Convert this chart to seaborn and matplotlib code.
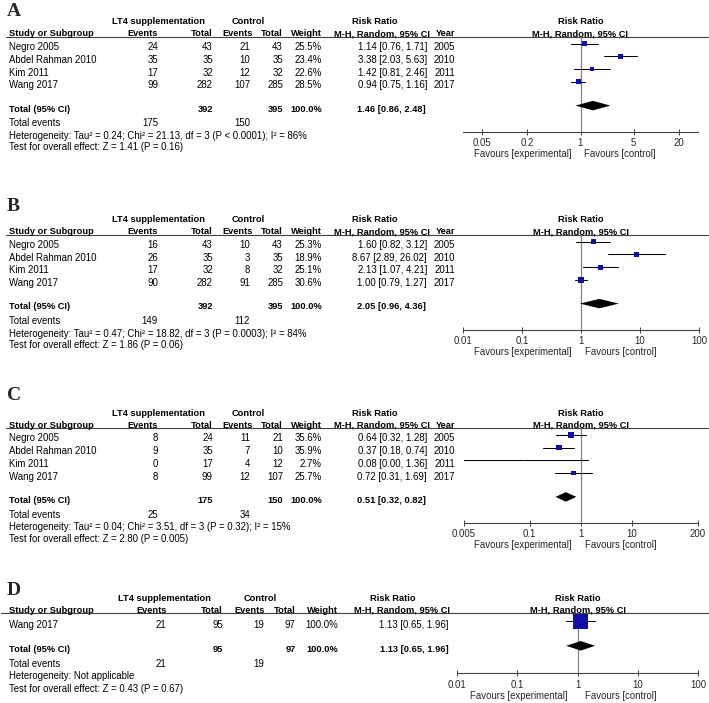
import numpy as np
import pandas as pd
import matplotlib
matplotlib.use("Agg")
import matplotlib.pyplot as plt
import seaborn as sns
from matplotlib.ticker import FixedLocator, NullLocator

# ---------------- data ----------------
studies4 = ["Negro 2005", "Abdel Rahman 2010", "Kim 2011", "Wang 2017"]
years4 = ["2005", "2010", "2011", "2017"]

# Panel A
a_exp_events = [24, 35, 17, 99]
a_exp_total = [43, 35, 32, 282]
a_ctl_events = [21, 10, 12, 107]
a_ctl_total = [43, 35, 32, 285]
a_weight = [25.5, 23.4, 22.6, 28.5]
a_rr = [1.14, 3.38, 1.42, 0.94]
a_lo = [0.76, 2.03, 0.81, 0.75]
a_hi = [1.71, 5.63, 2.46, 1.16]
a_total = [392, 395]
a_total_rr = [1.46, 0.86, 2.48]
a_total_events = [175, 150]
a_het = "Heterogeneity: Tau\u00b2 = 0.24; Chi\u00b2 = 21.13, df = 3 (P < 0.0001); I\u00b2 = 86%"
a_test = "Test for overall effect: Z = 1.41 (P = 0.16)"
a_ticks = [0.05, 0.2, 1, 5, 20]
a_ticklabels = ["0.05", "0.2", "1", "5", "20"]

# Panel B
b_exp_events = [16, 26, 17, 90]
b_exp_total = [43, 35, 32, 282]
b_ctl_events = [10, 3, 8, 91]
b_ctl_total = [43, 35, 32, 285]
b_weight = [25.3, 18.9, 25.1, 30.6]
b_rr = [1.60, 8.67, 2.13, 1.00]
b_lo = [0.82, 2.89, 1.07, 0.79]
b_hi = [3.12, 26.02, 4.21, 1.27]
b_total = [392, 395]
b_total_rr = [2.05, 0.96, 4.36]
b_total_events = [149, 112]
b_het = "Heterogeneity: Tau\u00b2 = 0.47; Chi\u00b2 = 18.82, df = 3 (P = 0.0003); I\u00b2 = 84%"
b_test = "Test for overall effect: Z = 1.86 (P = 0.06)"
b_ticks = [0.01, 0.1, 1, 10, 100]
b_ticklabels = ["0.01", "0.1", "1", "10", "100"]

# Panel C
c_exp_events = [8, 9, 0, 8]
c_exp_total = [24, 35, 17, 99]
c_ctl_events = [11, 7, 4, 12]
c_ctl_total = [21, 10, 12, 107]
c_weight = [35.6, 35.9, 2.7, 25.7]
c_rr = [0.64, 0.37, 0.08, 0.72]
c_lo = [0.32, 0.18, 0.00, 0.31]
c_hi = [1.28, 0.74, 1.36, 1.69]
c_total = [175, 150]
c_total_rr = [0.51, 0.32, 0.82]
c_total_events = [25, 34]
c_het = "Heterogeneity: Tau\u00b2 = 0.04; Chi\u00b2 = 3.51, df = 3 (P = 0.32); I\u00b2 = 15%"
c_test = "Test for overall effect: Z = 2.80 (P = 0.005)"
c_ticks = [0.005, 0.1, 1, 10, 200]
c_ticklabels = ["0.005", "0.1", "1", "10", "200"]

# Panel D
d_studies = ["Wang 2017"]
d_exp_events = [21]
d_exp_total = [95]
d_ctl_events = [19]
d_ctl_total = [97]
d_weight = [100.0]
d_rr = [1.13]
d_lo = [0.65]
d_hi = [1.96]
d_total = [95, 97]
d_total_rr = [1.13, 0.65, 1.96]
d_total_events = [21, 19]
d_het = "Heterogeneity: Not applicable"
d_test = "Test for overall effect: Z = 0.43 (P = 0.67)"
d_ticks = [0.01, 0.1, 1, 10, 100]
d_ticklabels = ["0.01", "0.1", "1", "10", "100"]

# ---------------- style ----------------
sns.set_style("white")
plt.rcParams['font.family'] = ['Liberation Sans', 'DejaVu Sans']
FS = 6.9      # regular text
FSB = 6.7     # bold text
HALF_CAP = 3.4  # px
SQ_COLOR = '#1010a8'
GRID_GRAY = '#808080'
AX_COLOR = '#404040'

W, H = 709, 703
fig = plt.figure(figsize=(W / 100, H / 100), dpi=100)
ax0 = fig.add_axes([0, 0, 1, 1])
ax0.set_xlim(0, W)
ax0.set_ylim(H, 0)
ax0.axis('off')


def T(x, y, s, ha='left', bold=False):
    ax0.text(x, y + HALF_CAP, s, ha=ha, va='baseline', fontsize=FSB if bold else FS,
             fontweight='bold' if bold else 'normal', color='black')


cols_std = dict(study=9, ee=158, et=213, ce=250, ct=283, w=322, rr=427, year=455,
                h_ee=158, h_et=213, h_ce=253, h_ct=283, h_w=322, h_rr=430,
                rr_title=375, lt4=159, ctl=248.5, tot_rr=426, line=(6, 708))
cols_d = dict(study=9, ee=166, et=223, ce=264.5, ct=295.5, w=338, rr=448.5, year=None,
              h_ee=167, h_et=223, h_ce=265, h_ct=296, h_w=338, h_rr=450,
              rr_title=393, lt4=164, ctl=260, tot_rr=448.5, line=(1, 709))

panels = [
    dict(letter='A', letter_y=10, y0=21, studies=studies4, years=years4,
         ee=a_exp_events, et=a_exp_total, ce=a_ctl_events, ct=a_ctl_total, w=a_weight,
         rr=a_rr, lo=a_lo, hi=a_hi, total=a_total, total_rr=a_total_rr,
         total_events=a_total_events, het=a_het, test=a_test,
         ticks=a_ticks, ticklabels=a_ticklabels, xlim=(1 / 35.4, 35.4),
         ax_x=(463, 698), cols=cols_std, row0=25.7, g_tot=23.3, g_ev=14.7,
         g_het=13, g_test=11, g_axis=23.5, sq_k=1.0, fav=(-9, 4)),
    dict(letter='B', letter_y=205, y0=219, studies=studies4, years=years4,
         ee=b_exp_events, et=b_exp_total, ce=b_ctl_events, ct=b_ctl_total, w=b_weight,
         rr=b_rr, lo=b_lo, hi=b_hi, total=b_total, total_rr=b_total_rr,
         total_events=b_total_events, het=b_het, test=b_test,
         ticks=b_ticks, ticklabels=b_ticklabels, xlim=(0.01, 100),
         ax_x=(463, 699), cols=cols_std, row0=25.7, g_tot=23.3, g_ev=14.7,
         g_het=13, g_test=11, g_axis=23.5, sq_k=1.0, fav=(-9, 4)),
    dict(letter='C', letter_y=394, y0=412.3, studies=studies4, years=years4,
         ee=c_exp_events, et=c_exp_total, ce=c_ctl_events, ct=c_ctl_total, w=c_weight,
         rr=c_rr, lo=c_lo, hi=c_hi, total=c_total, total_rr=c_total_rr,
         total_events=c_total_events, het=c_het, test=c_test,
         ticks=c_ticks, ticklabels=c_ticklabels, xlim=(0.005, 200),
         ax_x=(463.5, 698), cols=cols_std, row0=25.7, g_tot=23.3, g_ev=14.7,
         g_het=13, g_test=11, g_axis=23.5, sq_k=0.92, fav=(-9, 4)),
    dict(letter='D', letter_y=589, y0=597.3, studies=d_studies, years=None,
         ee=d_exp_events, et=d_exp_total, ce=d_ctl_events, ct=d_ctl_total, w=d_weight,
         rr=d_rr, lo=d_lo, hi=d_hi, total=d_total, total_rr=d_total_rr,
         total_events=d_total_events, het=d_het, test=d_test,
         ticks=d_ticks, ticklabels=d_ticklabels, xlim=(0.01, 100),
         ax_x=(456.7, 698.3), cols=cols_d, row0=27, g_tot=24, g_ev=15.7,
         g_het=12, g_test=12.3, g_axis=25, sq_k=1.5, fav=(-9.5, 7.5)),
]

for p in panels:
    c = p['cols']
    y0 = p['y0']
    # panel letter
    ax0.text(7, p['letter_y'] + 6.4, p['letter'], ha='left', va='baseline',
             fontsize=14, fontweight='bold', family=['Liberation Serif', 'DejaVu Serif'])
    # header rows
    T(c['lt4'], y0, "LT4 supplementation", ha='center', bold=True)
    T(c['ctl'], y0, "Control", ha='center', bold=True)
    T(c['rr_title'], y0, "Risk Ratio", ha='center', bold=True)
    x0p, x1p = p['ax_x']
    xc = (x0p + x1p) / 2
    T(xc, y0, "Risk Ratio", ha='center', bold=True)
    y1 = y0 + 12
    T(c['study'], y1, "Study or Subgroup", bold=True)
    T(c['h_ee'], y1, "Events", ha='right', bold=True)
    T(c['h_et'], y1, "Total", ha='right', bold=True)
    T(c['h_ce'], y1, "Events", ha='right', bold=True)
    T(c['h_ct'], y1, "Total", ha='right', bold=True)
    T(c['h_w'], y1, "Weight", ha='right', bold=True)
    T(c['h_rr'], y1, "M-H, Random, 95% CI", ha='right', bold=True)
    if c['year'] is not None:
        T(c['year'], y1, "Year", ha='right', bold=True)
    T(xc, y1, "M-H, Random, 95% CI", ha='center', bold=True)
    line_y = y0 + 15.7
    ax0.plot(list(c['line']), [line_y, line_y], color=AX_COLOR, lw=0.8)

    # study rows
    n = len(p['studies'])
    row_y = [y0 + p['row0'] + i * 12.7 for i in range(n)]
    for i in range(n):
        y = row_y[i]
        T(c['study'], y, p['studies'][i])
        T(c['ee'], y, str(p['ee'][i]), ha='right')
        T(c['et'], y, str(p['et'][i]), ha='right')
        T(c['ce'], y, str(p['ce'][i]), ha='right')
        T(c['ct'], y, str(p['ct'][i]), ha='right')
        T(c['w'], y, f"{p['w'][i]:.1f}%", ha='right')
        T(c['rr'], y, f"{p['rr'][i]:.2f} [{p['lo'][i]:.2f}, {p['hi'][i]:.2f}]", ha='right')
        if p['years'] is not None:
            T(c['year'], y, p['years'][i], ha='right')
    tot_y = row_y[-1] + p['g_tot']
    T(c['study'], tot_y, "Total (95% CI)", bold=True)
    T(c['et'], tot_y, str(p['total'][0]), ha='right', bold=True)
    T(c['ct'], tot_y, str(p['total'][1]), ha='right', bold=True)
    T(c['w'], tot_y, "100.0%", ha='right', bold=True)
    tr = p['total_rr']
    T(c['tot_rr'], tot_y, f"{tr[0]:.2f} [{tr[1]:.2f}, {tr[2]:.2f}]", ha='right', bold=True)
    ev_y = tot_y + p['g_ev']
    T(c['study'], ev_y, "Total events")
    T(c['ee'], ev_y, str(p['total_events'][0]), ha='right')
    T(c['ce'], ev_y, str(p['total_events'][1]), ha='right')
    het_y = ev_y + p['g_het']
    T(c['study'], het_y, p['het'])
    T(c['study'], het_y + p['g_test'], p['test'])

    # forest axes
    axis_y = tot_y + p['g_axis']
    ax = fig.add_axes([x0p / W, 1 - axis_y / H, (x1p - x0p) / W, (axis_y - line_y) / H])
    ax.set_facecolor('none')
    ax.set_xscale('log')
    ax.set_xlim(*p['xlim'])
    ax.set_ylim(axis_y, line_y)
    ax.axvline(1, color=GRID_GRAY, lw=0.9, zorder=1)
    df = pd.DataFrame({'rr': p['rr'], 'lo': p['lo'], 'hi': p['hi'], 'w': p['w'],
                       'y': [y - 3 for y in row_y]})
    for _, r in df.iterrows():
        ax.plot([r['lo'], r['hi']], [r['y'], r['y']], color='black', lw=0.75, zorder=2)
    sides_pt = p['sq_k'] * np.sqrt(df['w'].values) * 0.72
    sns.scatterplot(data=df, x='rr', y='y', marker='s', s=sides_pt ** 2, color=SQ_COLOR,
                    edgecolor='none', linewidth=0, legend=False, ax=ax, zorder=3)
    dy = tot_y - 2.5
    dh = 9.5 / 2
    ax.fill([tr[1], tr[0], tr[2], tr[0]], [dy, dy - dh, dy, dy + dh], color='black',
            lw=0, zorder=3)
    ax.set_xlabel('')
    ax.set_ylabel('')
    ax.set_yticks([])
    for s in ['left', 'right', 'top']:
        ax.spines[s].set_visible(False)
    ax.spines['bottom'].set_color(AX_COLOR)
    ax.spines['bottom'].set_linewidth(0.8)
    ax.xaxis.set_major_locator(FixedLocator(p['ticks']))
    ax.xaxis.set_minor_locator(NullLocator())
    ax.set_xticklabels(p['ticklabels'])
    ax.tick_params(axis='x', direction='inout', length=4.3, width=0.7, color=AX_COLOR,
                   labelsize=FS, pad=2.4, bottom=True)
    fdy = -(22 + HALF_CAP) * 0.72
    ax.annotate("Favours [experimental]", xy=(1, 0), xycoords=('data', 'axes fraction'),
                xytext=(p['fav'][0] * 0.72, fdy), textcoords='offset points',
                ha='right', va='baseline', fontsize=FS, annotation_clip=False)
    ax.annotate("Favours [control]", xy=(1, 0), xycoords=('data', 'axes fraction'),
                xytext=(p['fav'][1] * 0.72, fdy), textcoords='offset points',
                ha='left', va='baseline', fontsize=FS, annotation_clip=False)

fig.savefig("out.png", dpi=100, facecolor='white')
